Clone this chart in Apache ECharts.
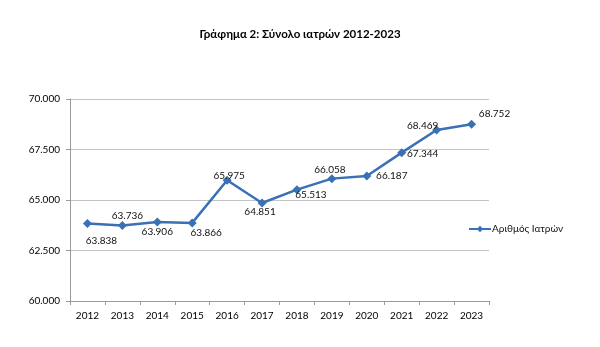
<!DOCTYPE html>
<html><head><meta charset="utf-8">
<script src="https://cdn.jsdelivr.net/npm/echarts@6/dist/echarts.min.js"></script>
<style>html,body{margin:0;padding:0;background:#fff}#c{width:600px;height:347px}</style>
</head><body><div id="c"></div>
<script>
const years = ['2012','2013','2014','2015','2016','2017','2018','2019','2020','2021','2022','2023'];
const doctors = [63838, 63736, 63906, 63866, 65975, 64851, 65513, 66058, 66187, 67344, 68469, 68752];
const seriesName = 'Αριθμός Ιατρών';
const titleText = 'Γράφημα 2: Σύνολο ιατρών 2012-2023';
const yMin = 60000, yMax = 70000, yStep = 2500;

// label offsets (styling only)
const labelOffsets = [[14,17],[5,-10],[0,10],[14,10],[2,-5],[-2,9],[14,5],[-2,-9],[25,0],[21,1],[-14,-4],[23,-10]];

const fmt = v => Number(v).toLocaleString('de-DE');
const FONT = 'Lato, "Open Sans", sans-serif';
const chart = echarts.init(document.getElementById('c'));
chart.setOption({
  animation: false,
  title: {text: titleText, left: 'center', top: 23, textStyle: {fontFamily: FONT, fontSize: 11.5, fontWeight: 'bold', color: '#000'}},
  legend: {left: 463, top: 219, itemWidth: 22, itemHeight: 8, itemGap: 2,
    textStyle: {fontFamily: FONT, fontSize: 10, color: '#111', padding: [0,0,0,-4]},
    data: [seriesName]},
  grid: {left: 70, right: 111, top: 99, bottom: 46, containLabel: false},
  xAxis: {type: 'category', data: years, boundaryGap: true,
    axisLine: {lineStyle: {color: '#9a9a9a'}},
    axisTick: {show: true, length: 4, lineStyle: {color: '#9a9a9a'}},
    axisLabel: {fontFamily: FONT, fontSize: 10, color: '#000', margin: 10}},
  yAxis: {type: 'value', min: yMin, max: yMax, interval: yStep,
    axisLine: {show: true, lineStyle: {color: '#9a9a9a'}},
    axisTick: {show: true, length: 4, lineStyle: {color: '#9a9a9a'}},
    splitLine: {lineStyle: {color: '#c4c4c4', width: 1}},
    axisLabel: {fontFamily: FONT, fontSize: 10, color: '#000', margin: 10, formatter: fmt}},
  series: [{
    name: seriesName, type: 'line', data: doctors.map((v,i)=>({value: v, label: {offset: labelOffsets[i]}})),
    symbol: 'diamond', symbolSize: 9,
    lineStyle: {color: '#3a70b4', width: 2.5},
    itemStyle: {color: '#3a70b4'},
    label: {show: true, position: 'inside', fontFamily: FONT, fontSize: 10, color: '#111', formatter: p => fmt(p.value)}
  }]
});
</script></body></html>
